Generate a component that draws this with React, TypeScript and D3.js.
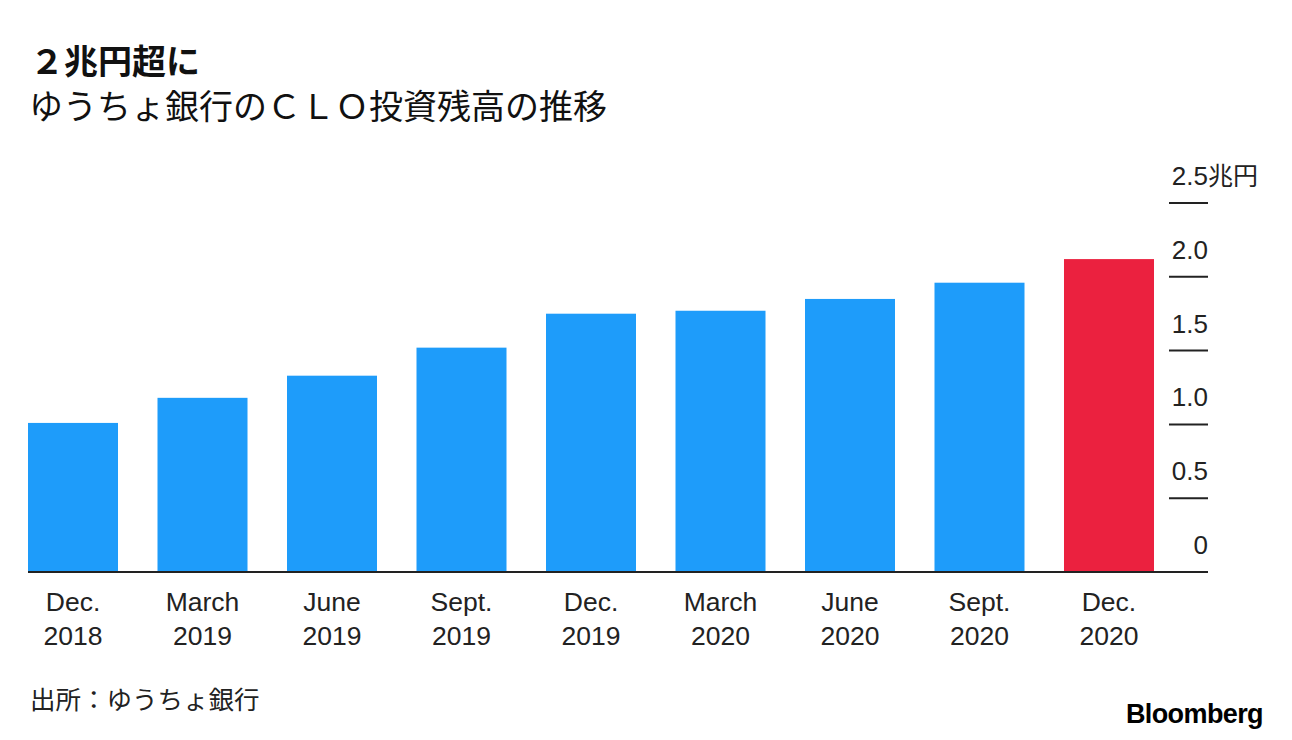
import React from "react";
import * as d3 from "d3";

const categories = ["Dec.|2018", "March|2019", "June|2019", "Sept.|2019", "Dec.|2019", "March|2020", "June|2020", "Sept.|2020", "Dec.|2020"];
const values = [1.01, 1.18, 1.33, 1.52, 1.75, 1.77, 1.85, 1.96, 2.12];
const yTicks = [0, 0.5, 1.0, 1.5, 2.0, 2.5];
const yTickLabels = ["0", "0.5", "1.0", "1.5", "2.0", "2.5"];

const W = 1292;
const H = 740;
const latin = "'Liberation Sans', Arial, Helvetica, sans-serif";
const cjk = "'Noto Sans CJK JP', 'Noto Sans', sans-serif";

export default function App() {
  const x = d3.scaleBand<string>().domain(categories).range([28, 1154]).paddingInner(0.305).paddingOuter(0);
  const y = d3.scaleLinear().domain([0, 2.5]).range([572, 203]);
  const axisRight = 1208;
  return (
    <svg width={W} height={H} style={{ position: "absolute", left: 0, top: 0, background: "#fff" }}>
      <text x={30} y={74} fontFamily={cjk} fontWeight={700} fontSize={34} fill="#111">２兆円超に</text>
      <text x={29} y={119} fontFamily={cjk} fontSize={34} fill="#111">ゆうちょ銀行のＣＬＯ投資残高の推移</text>
      {categories.map((c, i) => (
        <rect key={c} x={x(c)} y={y(values[i])} width={x.bandwidth()} height={y(0) - y(values[i])}
          fill={i === categories.length - 1 ? "#EB213F" : "#1E9CFA"} />
      ))}
      <line x1={28} x2={axisRight} y1={y(0)} y2={y(0)} stroke="#222" strokeWidth={2} />
      {yTicks.map((t, i) => (
        <g key={t}>
          {t > 0 && <line x1={1169} x2={axisRight} y1={y(t)} y2={y(t)} stroke="#222" strokeWidth={2} />}
          <text x={axisRight} y={y(t) - 18} textAnchor="end" fontFamily={latin} fontSize={26} fill="#222">{yTickLabels[i]}</text>
          {t === 2.5 && <text x={axisRight} y={y(t) - 18} fontFamily={cjk} fontSize={25} fill="#222">兆円</text>}
        </g>
      ))}
      {categories.map((c) => {
        const [a, b] = c.split("|");
        const cx = (x(c) as number) + x.bandwidth() / 2;
        return (
          <g key={c}>
            <text x={cx} y={611} textAnchor="middle" fontFamily={latin} fontSize={26.5} fill="#222">{a}</text>
            <text x={cx} y={645} textAnchor="middle" fontFamily={latin} fontSize={26.5} fill="#222">{b}</text>
          </g>
        );
      })}
      <text x={30} y={709} fontFamily={cjk} fontSize={25.5} fill="#222">出所：ゆうちょ銀行</text>
      <text x={1263} y={723} textAnchor="end" fontFamily={latin} fontWeight={700} fontSize={27} letterSpacing={-0.6} fill="#000">Bloomberg</text>
    </svg>
  );
}
